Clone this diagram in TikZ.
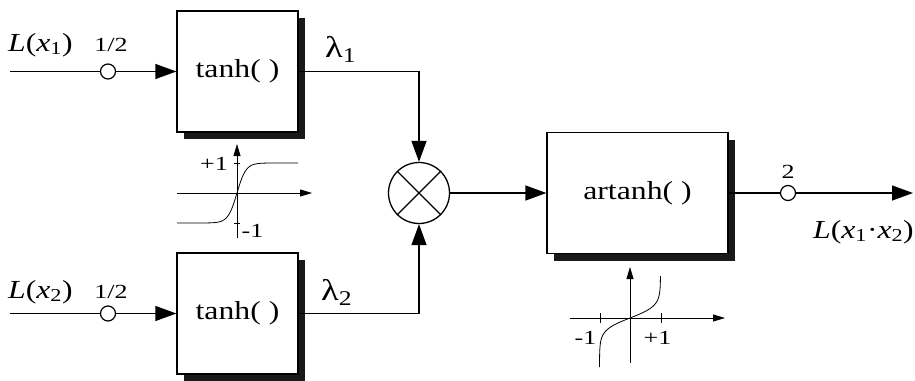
\documentclass[tikz,border=0pt]{standalone}
\usepackage{fontspec}
\setmainfont[FakeStretch=1.22]{Liberation Serif}
\newfontfamily\smallfam[FakeStretch=1.3]{Liberation Serif}
\usetikzlibrary{arrows.meta,shadows}
\newcommand\bigf{\fontsize{26}{30}\selectfont}
\newcommand\smf{\smallfam\fontsize{20}{24}\selectfont}
\newcommand\lamf{\fontsize{30}{34}\selectfont}
\tikzset{
  mainline/.style={line width=1.3pt},
  arr/.style={mainline, -{Triangle[length=21pt,width=15pt]}},
  blk/.style={draw, line width=1.3pt, fill=white, minimum height=121pt, inner sep=0pt,
    drop shadow={shadow xshift=7pt, shadow yshift=-7pt, fill=black!90, opacity=1}, font=\bigf},
  gain/.style={circle, draw, fill=white, minimum size=15pt, inner sep=0pt, line width=1.2pt},
  mult/.style={circle, draw, minimum size=61pt, inner sep=0pt, line width=1.3pt},
  thinl/.style={line width=0.8pt},
  sarr/.style={thinl, -{Triangle[length=12pt,width=7pt]}},
  lbl/.style={inner sep=0pt, anchor=base},
}
\begin{document}
\begin{tikzpicture}[x=1pt,y=-1pt]
\useasboundingbox (0,0) rectangle (915,380);
% blocks
\coordinate (in1) at (10,71.5);
\coordinate (in2) at (10,313.5);
\node[gain] (g1) at (108,71.5) {};
\node[gain] (g2) at (108,313.5) {};
\node[blk, minimum width=121pt] (t1) at (237.5,71.5) {tanh( )};
\node[blk, minimum width=121pt] (t2) at (237.5,313.5) {tanh( )};
\node[mult] (m) at (419,193) {};
\node[blk, minimum width=181pt] (a) at (637.5,193) {artanh( )};
\node[gain] (g3) at (788,193) {};
\coordinate (out) at (913,193);
% connectors
\draw[mainline] (in1) -- (g1);
\draw[arr] (g1) -- (t1);
\draw[mainline] (in2) -- (g2);
\draw[arr] (g2) -- (t2);
\draw[arr] (t1.east) -| (m.north);
\draw[arr] (t2.east) -| (m.south);
\draw[mainline] (m.45) -- (m.225) (m.135) -- (m.315);
\draw[arr] (m) -- (a);
\draw[mainline] (a) -- (g3);
\draw[arr] (g3) -- (out);
% labels
\node[lbl, anchor=base west, font=\bigf] (l1) at (8,51) {\textit{L}(\textit{x}\textsubscript{1})};
\node[lbl, font=\smf] (h1) at (111,51) {1/2};
\node[lbl, anchor=base west, font=\bigf] (l2) at (8,298) {\textit{L}(\textit{x}\textsubscript{2})};
\node[lbl, font=\smf] (h2) at (111,298) {1/2};
\node[lbl, anchor=base west, font=\lamf] (lam1) at (325,57) {λ\textsubscript{1}};
\node[lbl, anchor=base west, font=\lamf] (lam2) at (321,300) {λ\textsubscript{2}};
\node[lbl, font=\smf] (two) at (788,178) {2};
\node[lbl, anchor=base east, font=\bigf] (lo) at (914,238) {\textit{L}(\textit{x}\textsubscript{1}·\textit{x}\textsubscript{2})};
% tanh characteristic
\draw[sarr] (177,193) -- (312,193);
\draw[sarr] (237,238) -- (237,144);
\draw[thinl] (234,163) -- (240,163) (234,223) -- (240,223);
\draw[thinl] plot[domain=177:298, samples=100] (\x, {193-30*tanh((\x-237)/9)});
\node[lbl, font=\smf] (pp1) at (214,170) {+1};
\node[lbl, font=\smf] (pm1) at (252.5,237) {-1};
% artanh characteristic
\draw[sarr] (570,318) -- (725,318);
\draw[sarr] (630,363) -- (630,267);
\draw[thinl] (600,313) -- (600,323) (661,313) -- (661,323);
\draw[thinl] plot[domain=-49:42, samples=100] ({630+30.5*tanh(\x/12)}, {318-\x});
\node[lbl, font=\smf] (qm1) at (585.5,344) {-1};
\node[lbl, font=\smf] (qp1) at (657.5,344) {+1};
\end{tikzpicture}
\end{document}
